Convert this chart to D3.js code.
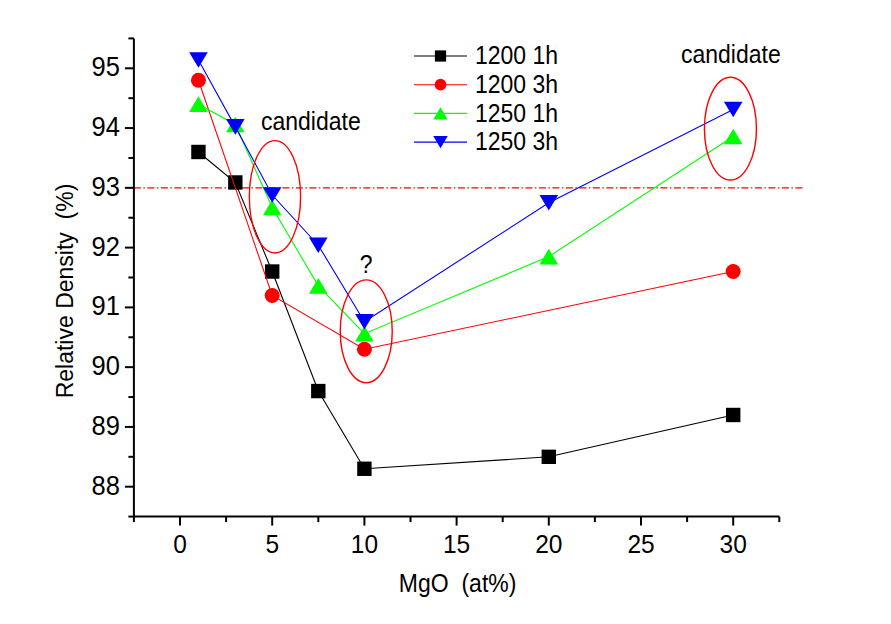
<!DOCTYPE html>
<html>
<head>
<meta charset="utf-8">
<script src="https://cdn.jsdelivr.net/npm/d3@7"></script>
<style>
  html, body { margin: 0; padding: 0; background: #fff; }
  svg { display: block; }
  text { font-family: Arial, "Liberation Sans", sans-serif; fill: #000; }
</style>
</head>
<body>
<svg id="chart" width="891" height="624"></svg>
<script>
// ---- data ----
const seriesNames = ["1200 1h", "1200 3h", "1250 1h", "1250 3h"];
const x1200_1h = [1, 3, 5, 7.5, 10, 20, 30];
const y1200_1h = [93.6, 93.09, 91.6, 89.6, 88.3, 88.5, 89.2];
const x1200_3h = [1, 5, 10, 30];
const y1200_3h = [94.8, 91.2, 90.3, 91.6];
const x1250_1h = [1, 3, 5, 7.5, 10, 20, 30];
const y1250_1h = [94.4, 94.06, 92.67, 91.36, 90.56, 91.85, 93.86];
const x1250_3h = [1, 3, 5, 7.5, 10, 20, 30];
const y1250_3h = [95.14, 94.02, 92.88, 92.04, 90.76, 92.75, 94.31];
const xTicks = [0, 5, 10, 15, 20, 25, 30];
const yTicks = [88, 89, 90, 91, 92, 93, 94, 95];
const refLineValue = 93;
const annotLabels = ["candidate", "?", "candidate"];

// ---- setup ----
const svg = d3.select("#chart");
const x = d3.scaleLinear().domain([-2.5, 32.5]).range([133.9, 779.3]);
const y = d3.scaleLinear().domain([88, 95]).range([486.7, 68.3]);
const yTop = y(95.5), yBot = y(87.5);

const colors = ["#000000", "#ff0000", "#00ff00", "#0000ff"];
const shapes = ["square", "circle", "up", "down"];
const seriesX = [x1200_1h, x1200_3h, x1250_1h, x1250_3h];
const seriesY = [y1200_1h, y1200_3h, y1250_1h, y1250_3h];

function markerPath(shape, s) {
  // s: scale factor; base sizes for the plot markers
  if (shape === "square") { const h = 7.2 * s; return `M${-h},${-h}H${h}V${h}H${-h}Z`; }
  if (shape === "circle") { const r = 7.5 * s; return `M${r},0A${r},${r} 0 1,1 ${-r},0A${r},${r} 0 1,1 ${r},0Z`; }
  const w = 9.3 * s, h = 7.8 * s;
  if (shape === "up") return `M0,${-h}L${w},${h}L${-w},${h}Z`;
  return `M0,${h}L${w},${-h}L${-w},${-h}Z`;
}

// ---- reference line ----
svg.append("line")
  .attr("x1", x(-2.5)).attr("x2", 804)
  .attr("y1", y(refLineValue)).attr("y2", y(refLineValue))
  .attr("stroke", "#ff0000").attr("stroke-width", 1.1)
  .attr("stroke-dasharray", "7,2.5,1.5,2.5");

// ---- series ----
const line = d3.line();
seriesNames.forEach((name, i) => {
  const pts = seriesX[i].map((xv, j) => [x(xv), y(seriesY[i][j])]);
  svg.append("path").attr("d", line(pts))
    .attr("fill", "none").attr("stroke", colors[i]).attr("stroke-width", 1.1);
  svg.selectAll(null).data(pts).enter().append("path")
    .attr("transform", d => `translate(${d[0]},${d[1]})`)
    .attr("d", markerPath(shapes[i], 1))
    .attr("fill", colors[i]);
});

// ---- axes ----
const axisG = svg.append("g");
// y axis
axisG.append("line").attr("x1", x(-2.5)).attr("x2", x(-2.5))
  .attr("y1", yTop).attr("y2", yBot + 1).attr("stroke", "#000").attr("stroke-width", 2);
const yMinor = d3.range(87.5, 95.51, 1);
yTicks.forEach(v => {
  axisG.append("line").attr("x1", x(-2.5) - 9).attr("x2", x(-2.5))
    .attr("y1", y(v)).attr("y2", y(v)).attr("stroke", "#000").attr("stroke-width", 2);
  axisG.append("text")
    .attr("transform", `translate(${x(-2.5) - 14},${y(v) + 8}) scale(1,1.08)`)
    .attr("text-anchor", "end").attr("font-size", 25.5).text(v);
});
yMinor.forEach(v => {
  axisG.append("line").attr("x1", x(-2.5) - 5.5).attr("x2", x(-2.5))
    .attr("y1", y(v)).attr("y2", y(v)).attr("stroke", "#000").attr("stroke-width", 2);
});
// x axis
axisG.append("line").attr("x1", x(-2.5) - 1).attr("x2", x(32.5))
  .attr("y1", yBot).attr("y2", yBot).attr("stroke", "#000").attr("stroke-width", 2);
xTicks.forEach(v => {
  axisG.append("line").attr("x1", x(v)).attr("x2", x(v))
    .attr("y1", yBot).attr("y2", yBot + 9).attr("stroke", "#000").attr("stroke-width", 2);
  axisG.append("text")
    .attr("transform", `translate(${x(v)},${yBot + 36}) scale(1,1.08)`)
    .attr("text-anchor", "middle").attr("font-size", 24.5).text(v);
});
d3.range(-2.5, 32.51, 5).forEach(v => {
  axisG.append("line").attr("x1", x(v)).attr("x2", x(v))
    .attr("y1", yBot).attr("y2", yBot + 5.5).attr("stroke", "#000").attr("stroke-width", 2);
});

// axis titles
svg.append("text")
  .attr("transform", `translate(${(x(-2.5) + x(32.5)) / 2 + 1},592) scale(1,1.14)`)
  .attr("text-anchor", "middle").attr("font-size", 23)
  .attr("xml:space", "preserve").text("MgO  (at%)");
svg.append("text")
  .attr("transform", `translate(73,291) rotate(-90) scale(1,1.08)`)
  .attr("text-anchor", "middle").attr("font-size", 23)
  .attr("xml:space", "preserve").text("Relative Density  (%)");

// ---- legend ----
const legend = svg.append("g");
seriesNames.forEach((name, i) => {
  const ly = 56 + i * 28.7;
  legend.append("line").attr("x1", 414).attr("x2", 467).attr("y1", ly).attr("y2", ly)
    .attr("stroke", colors[i]).attr("stroke-width", 1.1);
  legend.append("path").attr("transform", `translate(440.5,${ly})`)
    .attr("d", markerPath(shapes[i], 0.78)).attr("fill", colors[i]);
  legend.append("text")
    .attr("transform", `translate(475,${ly + 8.3}) scale(1,1.11)`)
    .attr("font-size", 23).text(name);
});

// ---- annotations ----
const ellipses = [
  { cx: 5.15, cy: 92.85, rx: 1.39, ry: 0.94 },
  { cx: 10.1, cy: 90.6, rx: 1.41, ry: 0.86 },
  { cx: 29.85, cy: 93.99, rx: 1.41, ry: 0.86 }
];
ellipses.forEach(e => {
  svg.append("ellipse")
    .attr("cx", x(e.cx)).attr("cy", y(e.cy))
    .attr("rx", x(e.cx + e.rx) - x(e.cx)).attr("ry", y(e.cy - e.ry) - y(e.cy))
    .attr("fill", "none").attr("stroke", "#ff0000").attr("stroke-width", 1.4);
});
svg.append("text").attr("transform", `translate(261,130) scale(1,1.1)`)
  .attr("font-size", 23).text(annotLabels[0]);
svg.append("text").attr("transform", `translate(${x(10.1)},273) scale(1,1.1)`)
  .attr("text-anchor", "middle").attr("font-size", 23).text(annotLabels[1]);
svg.append("text").attr("transform", `translate(681,62.7) scale(1,1.1)`)
  .attr("font-size", 23).text(annotLabels[2]);
</script>
</body>
</html>
